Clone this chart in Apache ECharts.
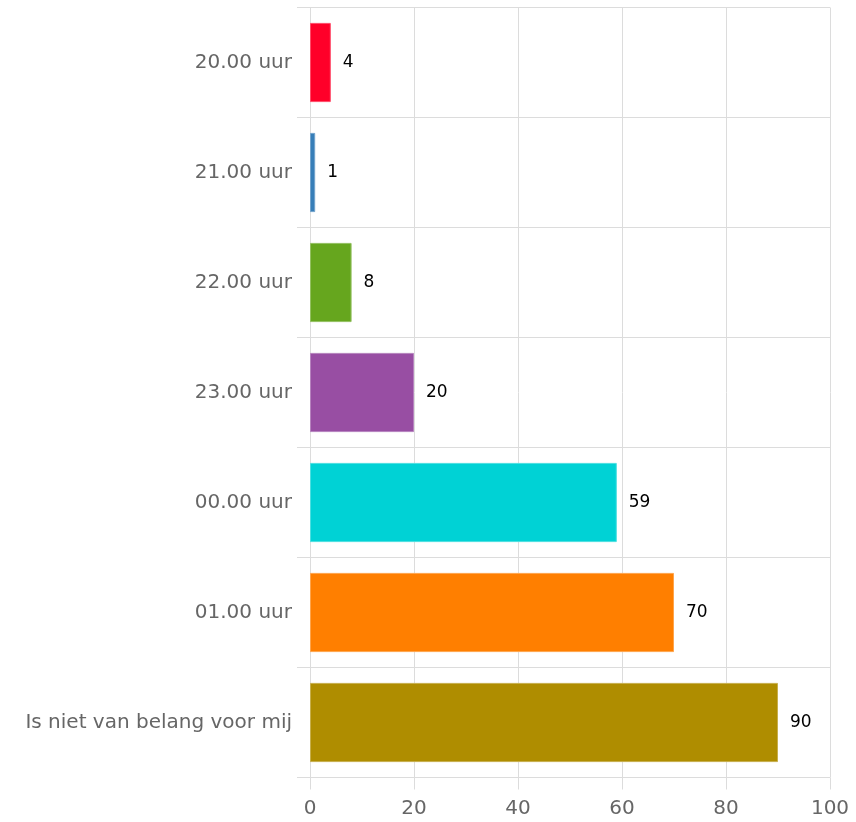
<!DOCTYPE html>
<html>
<head>
<meta charset="utf-8">
<script src="https://cdn.jsdelivr.net/npm/echarts@6/dist/echarts.min.js"></script>
<style>html,body{margin:0;padding:0;background:#fff}#c{width:856px;height:822px}</style>
</head>
<body>
<div id="c"></div>
<script>
var categories = ["20.00 uur", "21.00 uur", "22.00 uur", "23.00 uur", "00.00 uur", "01.00 uur", "Is niet van belang voor mij"];
var values = [4, 1, 8, 20, 59, 70, 90];
var colors = ["#ff0029", "#377eb8", "#66a61e", "#984ea3", "#00d2d5", "#ff7f00", "#af8d00"];
var xTicks = [0, 20, 40, 60, 80, 100];

var chart = echarts.init(document.getElementById('c'), null, {renderer: 'canvas'});
var font = '"DejaVu Sans", "Liberation Sans", Arial, sans-serif';
chart.setOption({
  animation: false,
  grid: {left: 310, right: 26, top: 7.5, bottom: 44.5, containLabel: false},
  xAxis: {
    type: 'value', min: xTicks[0], max: xTicks[xTicks.length - 1], interval: 20,
    axisLine: {show: false},
    axisTick: {show: true, length: 12, lineStyle: {color: '#dcdcdc'}},
    splitLine: {show: true, lineStyle: {color: '#dcdcdc'}},
    axisLabel: {color: '#666', fontSize: 20, fontFamily: font, margin: 21}
  },
  yAxis: {
    type: 'category', data: categories, inverse: true,
    axisLine: {show: false},
    axisTick: {show: true, length: 13, lineStyle: {color: '#dcdcdc'}},
    splitLine: {show: true, lineStyle: {color: '#dcdcdc'}},
    axisLabel: {color: '#666', fontSize: 20, fontFamily: font, margin: 18}
  },
  series: [{
    type: 'bar',
    barCategoryGap: '28%',
    data: values.map(function (v, i) {
      return {value: v, itemStyle: {color: colors[i], borderColor: echarts.color.lift(colors[i], 0.3), borderWidth: 1}};
    }),
    label: {show: true, position: 'right', distance: 12, color: '#000', fontSize: 17, fontFamily: font}
  }]
});
</script>
</body>
</html>
